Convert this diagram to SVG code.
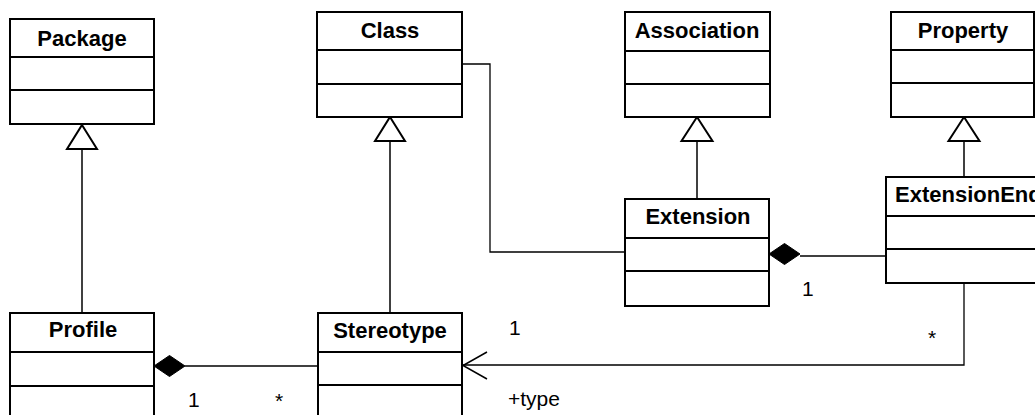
<svg xmlns="http://www.w3.org/2000/svg" width="1035" height="415" viewBox="0 0 1035 415">
  <style>
    .box { fill: #ffffff; stroke: #000000; stroke-width: 2; }
    .sep { stroke: #000000; stroke-width: 2; }
    .name { font-family: "Liberation Sans", Arial, sans-serif; font-size: 22px; font-weight: bold; fill: #000000; text-anchor: middle; }
    .lbl { font-family: "Liberation Sans", Arial, sans-serif; font-size: 21px; fill: #000000; }
    .gen { fill: none; stroke: #000000; stroke-width: 1.5; }
    .assoc { fill: none; stroke: #000000; stroke-width: 1.3; }
    .hollow { fill: #ffffff; stroke: #000000; stroke-width: 2; stroke-linejoin: miter; }
    .solid { fill: #000000; stroke: #000000; stroke-width: 1; }
    .open { fill: none; stroke: #000000; stroke-width: 1.5; }
  </style>
  <rect width="1035" height="415" fill="#ffffff"/>

  <!-- connectors -->
  <g id="connectors">
    <!-- Profile specialises Package -->
    <line class="gen" x1="82" y1="141" x2="82" y2="313"/>
    <polygon class="hollow" points="82,125 97,149 67,149"/>
    <!-- Stereotype specialises Class -->
    <line class="gen" x1="390" y1="141" x2="390" y2="313"/>
    <polygon class="hollow" points="390,117 405,141 375,141"/>
    <!-- Extension specialises Association -->
    <line class="gen" x1="697" y1="141" x2="697" y2="199"/>
    <polygon class="hollow" points="697,117 712.5,141 681.5,141"/>
    <!-- ExtensionEnd specialises Property -->
    <line class="gen" x1="964" y1="141" x2="964" y2="177"/>
    <polygon class="hollow" points="964,117 979.5,141 948.5,141"/>

    <!-- Class to Extension -->
    <polyline class="assoc" points="462,64 490,64 490,252 625,252"/>

    <!-- Extension owns ExtensionEnd -->
    <line class="assoc" x1="800" y1="256" x2="886" y2="256"/>
    <polygon class="solid" points="769,254 784.5,243.5 800,254 784.5,264.5"/>

    <!-- Profile owns Stereotype -->
    <line class="assoc" x1="185" y1="366" x2="318" y2="366"/>
    <polygon class="solid" points="154,366 169.5,355.5 185,366 169.5,376.5"/>

    <!-- ExtensionEnd type Stereotype -->
    <polyline class="assoc" points="964,283 964,365 463,365"/>
    <polyline class="open" points="487,352 463,365.5 487,379"/>

    <!-- end labels -->
    <text class="lbl" x="188" y="407">1</text>
    <text class="lbl" x="275" y="408">*</text>
    <text class="lbl" x="509" y="335">1</text>
    <text class="lbl" x="508" y="406">+type</text>
    <text class="lbl" x="802" y="296">1</text>
    <text class="lbl" x="928" y="345">*</text>
  </g>

  <!-- classes -->
  <g id="package">
    <rect class="box" x="10" y="19" width="144" height="105"/>
    <line class="sep" x1="10" y1="57" x2="154" y2="57"/>
    <line class="sep" x1="10" y1="90" x2="154" y2="90"/>
    <text class="name" x="82" y="46">Package</text>
  </g>

  <g id="class">
    <rect class="box" x="317" y="12" width="145" height="105"/>
    <line class="sep" x1="317" y1="50" x2="462" y2="50"/>
    <line class="sep" x1="317" y1="84" x2="462" y2="84"/>
    <text class="name" x="390" y="38">Class</text>
  </g>

  <g id="association">
    <rect class="box" x="625" y="12" width="145" height="105"/>
    <line class="sep" x1="625" y1="51" x2="770" y2="51"/>
    <line class="sep" x1="625" y1="84" x2="770" y2="84"/>
    <text class="name" x="697" y="38">Association</text>
  </g>

  <g id="property">
    <rect class="box" x="891" y="12" width="143" height="105"/>
    <line class="sep" x1="891" y1="50" x2="1034" y2="50"/>
    <line class="sep" x1="891" y1="83" x2="1034" y2="83"/>
    <text class="name" x="963" y="38">Property</text>
  </g>

  <g id="extension">
    <rect class="box" x="625" y="199" width="144" height="107"/>
    <line class="sep" x1="625" y1="238" x2="769" y2="238"/>
    <line class="sep" x1="625" y1="271" x2="769" y2="271"/>
    <text class="name" x="698" y="224">Extension</text>
  </g>

  <g id="extension-end">
    <rect class="box" x="886" y="177" width="170" height="106"/>
    <line class="sep" x1="886" y1="216" x2="1056" y2="216"/>
    <line class="sep" x1="886" y1="249" x2="1056" y2="249"/>
    <text class="name" x="895" y="202" style="text-anchor: start">ExtensionEnd</text>
  </g>

  <g id="profile">
    <rect class="box" x="10" y="313" width="144" height="120"/>
    <line class="sep" x1="10" y1="352" x2="154" y2="352"/>
    <line class="sep" x1="10" y1="386" x2="154" y2="386"/>
    <text class="name" x="83" y="337">Profile</text>
  </g>

  <g id="stereotype">
    <rect class="box" x="318" y="313" width="144" height="120"/>
    <line class="sep" x1="318" y1="352" x2="462" y2="352"/>
    <line class="sep" x1="318" y1="385" x2="462" y2="385"/>
    <text class="name" x="390" y="338">Stereotype</text>
  </g>
</svg>
